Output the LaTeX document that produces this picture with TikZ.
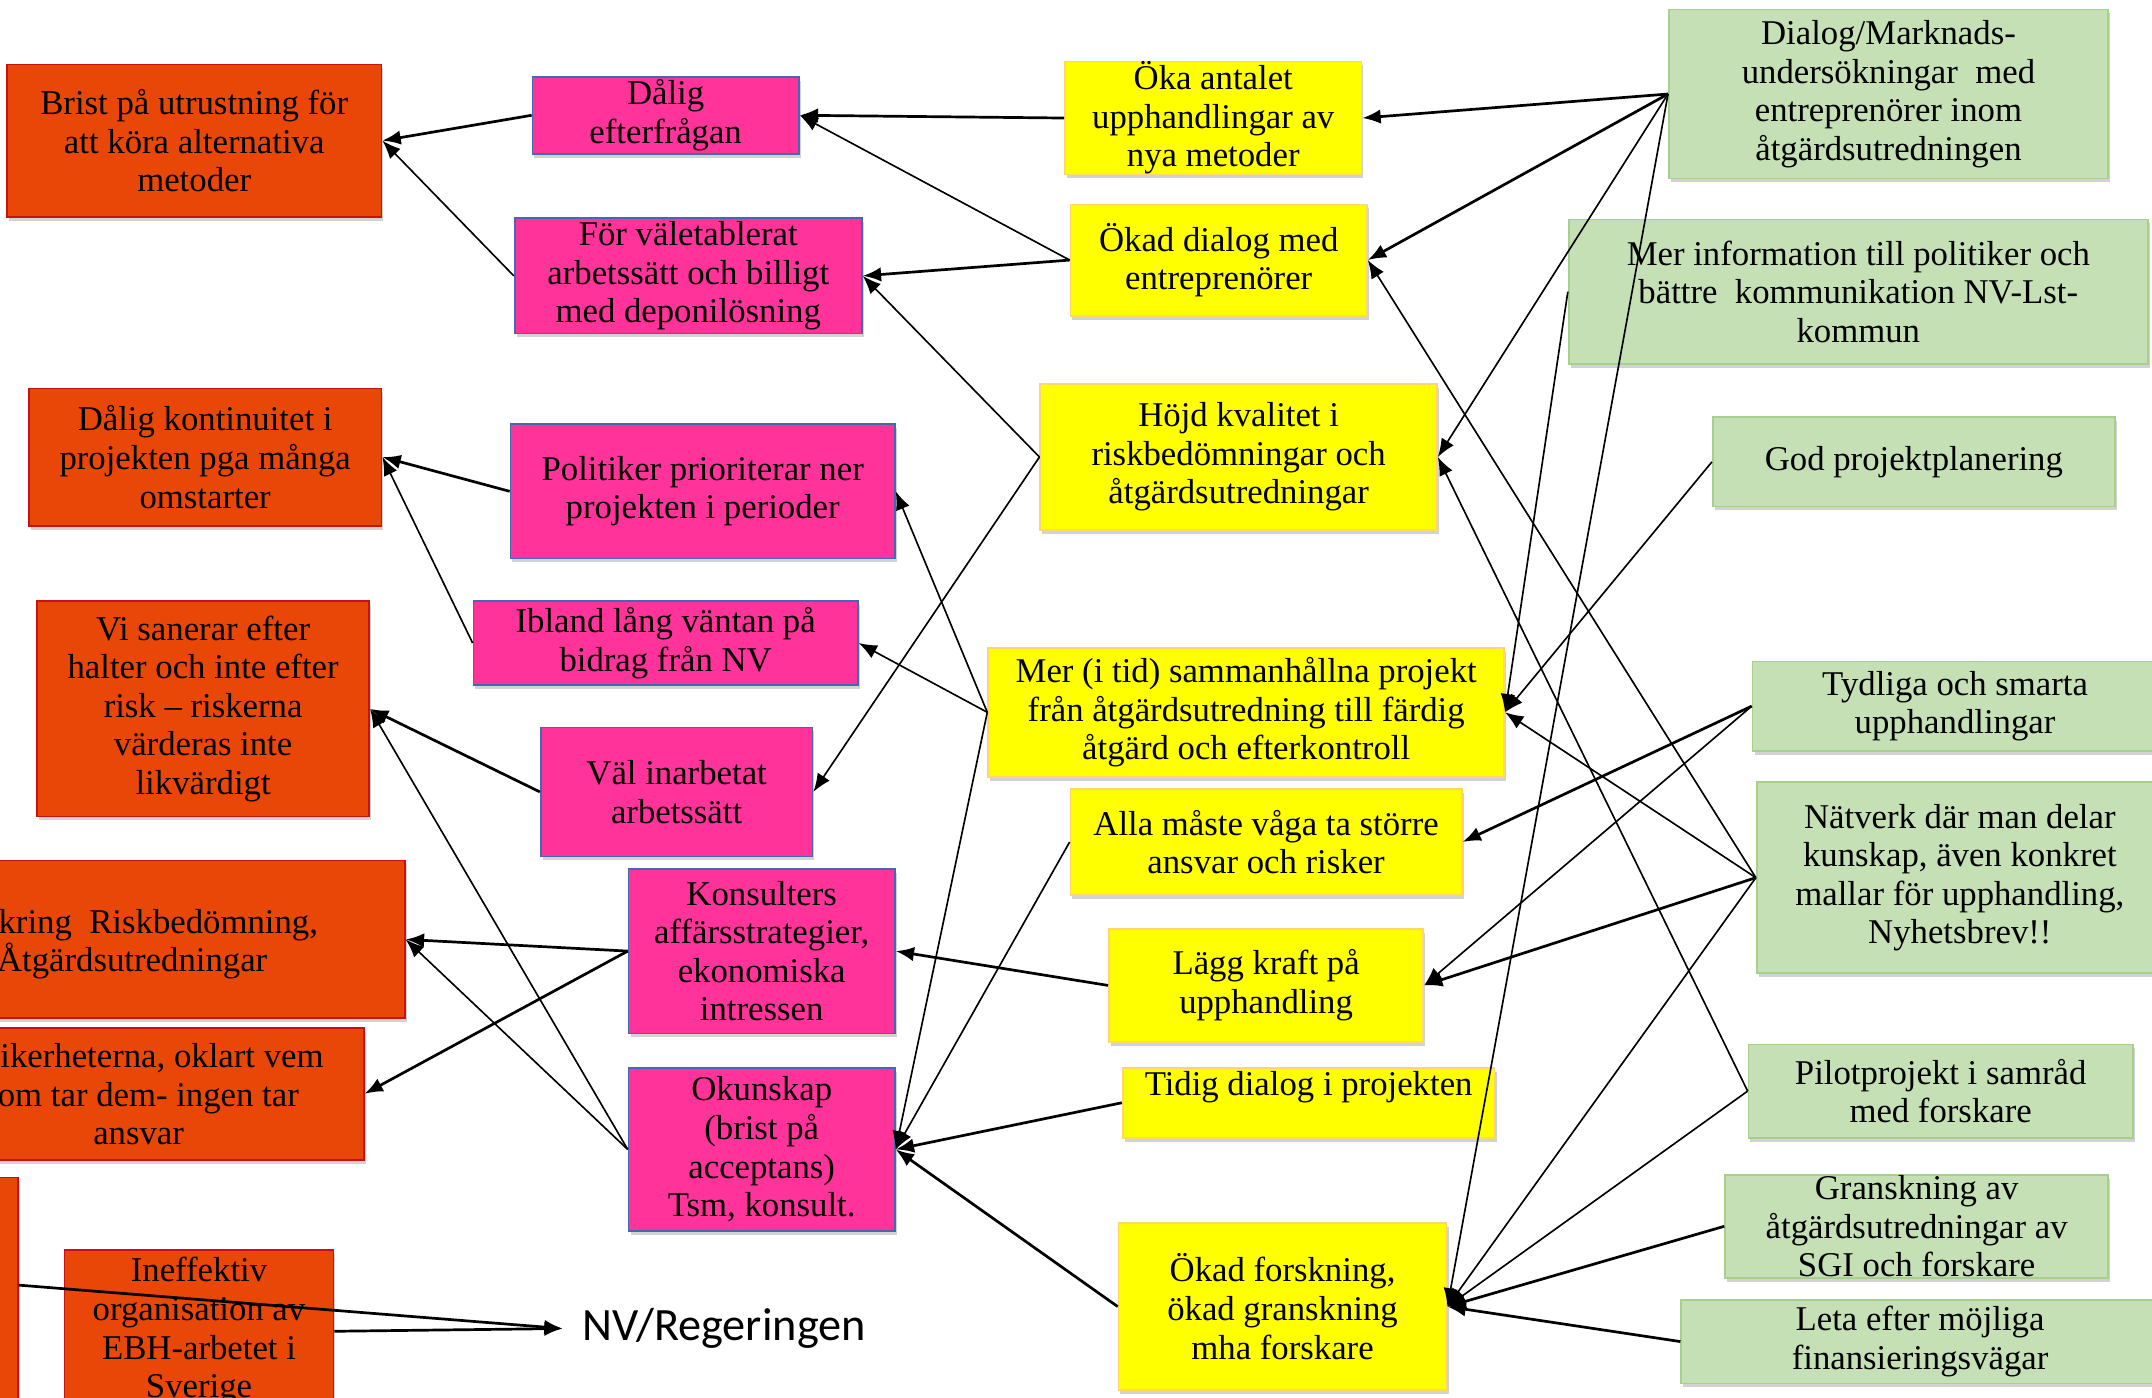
\documentclass[tikz,border=0pt]{standalone}
\usepackage{fontspec}
\setmainfont{Liberation Serif}
\newfontfamily\nvfont{Carlito}
\usepackage{tikz}
\usetikzlibrary{arrows.meta,shadows,calc}
\definecolor{dorange}{RGB}{233,71,7}
\definecolor{dred}{RGB}{200,18,16}
\definecolor{dpink}{RGB}{255,51,153}
\definecolor{dblue}{RGB}{68,104,178}
\definecolor{dyellow}{RGB}{255,255,0}
\definecolor{lorange}{RGB}{255,214,110}
\definecolor{lgreen}{RGB}{197,224,180}
\definecolor{mgreen}{RGB}{168,208,141}

% name, style, left, top, right, bottom, text
\newcommand\drawbox[7]{%
  \pgfmathsetmacro\bw{(#5-#3)*0.025}%
  \pgfmathsetmacro\bh{(#6-#4)*0.025}%
  \node[#2,minimum width=\bw cm,minimum height=\bh cm] (#1) at ({(#3+#5)/2},{(#4+#6)/2}) {#7};}

\begin{document}
\begin{tikzpicture}[x=0.025cm,y=-0.025cm,
  every node/.style={font=\fontsize{18}{20}\selectfont,align=center,inner sep=0pt},
  box/.style={rectangle,line width=0.9pt,drop shadow={shadow xshift=1pt,shadow yshift=-2pt,opacity=.25,fill=black!70}},
  obox/.style={box,fill=dorange,draw=dred},
  pbox/.style={box,fill=dpink,draw=dblue},
  ybox/.style={box,fill=dyellow,draw=lorange},
  gbox/.style={box,fill=lgreen,draw=mgreen},
  arr/.style={-{Latex[length=9.5pt,width=7.5pt]},line width=0.85pt},
  arrb/.style={arr,line width=1.4pt}]

\useasboundingbox (0,0) rectangle (1568,1018);
\clip (0,0) rectangle (1568,1018);

% draw the problem boxes
\drawbox{o1}{obox}{5}{47}{278}{158}{Brist på utrustning för\\att köra alternativa\\metoder}
\drawbox{o2}{obox}{21}{283}{278}{383}{Dålig kontinuitet i\\projekten pga många\\omstarter}
\drawbox{o3}{obox}{27}{438}{269}{595}{Vi sanerar efter\\halter och inte efter\\risk – riskerna\\värderas inte\\likvärdigt}
\drawbox{o4}{obox}{-110}{627}{295}{742}{}
\drawbox{o5}{obox}{-70}{749}{265}{845}{}
\drawbox{o6}{obox}{-100}{858}{13}{1100}{}
\drawbox{o7}{obox}{47}{911}{243}{1029}{Ineffektiv\\organisation av\\EBH-arbetet i\\Sverige}

% draw the cause boxes
\drawbox{p1}{pbox}{388}{56}{582}{112}{Dålig\\efterfrågan}
\drawbox{p2}{pbox}{375}{159}{628}{243}{För väletablerat\\arbetssätt och billigt\\med deponilösning}
\drawbox{p3}{pbox}{372}{309}{652}{407}{Politiker prioriterar ner\\projekten i perioder}
\drawbox{p4}{pbox}{345}{438}{625}{499}{Ibland lång väntan på\\bidrag från NV}
\drawbox{p5}{pbox}{394}{530}{592}{624}{Väl inarbetat\\arbetssätt}
\drawbox{p6}{pbox}{458}{633}{652}{753}{Konsulters\\affärsstrategier,\\ekonomiska\\intressen}
\drawbox{p7}{pbox}{458}{778}{652}{897}{Okunskap\\(brist på\\acceptans)\\Tsm, konsult.}

% draw the goal boxes
\drawbox{y1}{ybox}{776}{45}{992}{127}{Öka antalet\\upphandlingar av\\nya metoder}
\drawbox{y2}{ybox}{780}{149}{996}{230}{Ökad dialog med\\entreprenörer}
\drawbox{y3}{ybox}{758}{280}{1047}{386}{Höjd kvalitet i\\riskbedömningar och\\åtgärdsutredningar}
\drawbox{y4}{ybox}{720}{472}{1096}{566}{Mer (i tid) sammanhållna projekt\\från åtgärdsutredning till färdig\\åtgärd och efterkontroll}
\drawbox{y5}{ybox}{780}{575}{1065}{652}{Alla måste våga ta större\\ansvar och risker}
\drawbox{y6}{ybox}{808}{677}{1037}{759}{Lägg kraft på\\upphandling}
\drawbox{y7}{ybox}{818}{778}{1089}{829}{}
\drawbox{y8}{ybox}{815}{891}{1054}{1013}{Ökad forskning,\\ökad granskning\\mha forskare}

% draw the measure boxes
\drawbox{g1}{gbox}{1216}{7}{1536}{130}{Dialog/Marknads-\\undersökningar~~med\\entreprenörer inom\\åtgärdsutredningen}
\drawbox{g2}{gbox}{1143}{160}{1565}{265}{Mer information till politiker och\\bättre~~kommunikation NV-Lst-\\kommun}
\drawbox{g3}{gbox}{1248}{304}{1541}{369}{God projektplanering}
\drawbox{g4}{gbox}{1277}{482}{1572}{547}{Tydliga och smarta\\upphandlingar}
\drawbox{g5}{gbox}{1280}{570}{1576}{709}{Nätverk där man delar\\kunskap, även konkret\\mallar för upphandling,\\Nyhetsbrev!!}
\drawbox{g6}{gbox}{1274}{761}{1554}{829}{Pilotprojekt i samråd\\med forskare}
\drawbox{g7}{gbox}{1257}{856}{1536}{931}{Granskning av\\åtgärdsutredningar av\\SGI och forskare}
\drawbox{g8}{gbox}{1225}{947}{1573}{1008}{Leta efter möjliga\\finansieringsvägar}

% texts running out of the page
\node[anchor=base east] (o4a) at (232,680) {kring~~Riskbedömning,};
\node[anchor=base east] (o4b) at (195,708) {Åtgärdsutredningar};
\node[anchor=base east] (o5a) at (236,778) {ikerheterna, oklart vem};
\node[anchor=base east] (o5b) at (218,806) {om tar dem- ingen tar};
\node[anchor=base] (o5c) at (101,834) {ansvar};
\node[anchor=north] (y7t) at ([yshift=-2pt]y7.north) {Tidig dialog i projekten};

\node[font=\nvfont\fontsize{24}{28}\selectfont,inner xsep=10pt,anchor=west] (nv) at (410,968) {NV/Regeringen};
\coordinate (o6out) at ($(o6.north east)+(0,79)$);

% draw the arrows
\foreach \a/\b in {p2/o1,p4/o2,p7/o3,p7/o4,y2/p1,y3/p2,y3/p5,y4/p3,y4/p4,y4/p7,y5/p7,
  g1/y3,g1/y8,g2/y4,g3/y4,g5/y2,g5/y4,g5/y8,g6/y3,g6/y8,g4/y6}
  \draw[arr] (\a.west) -- (\b.east);

\foreach \a/\b in {p1/o1,p3/o2,p5/o3,p6/o4,p6/o5,y1/p1,y2/p2,y6/p6,y7/p7,y8/p7,
  g1/y1,g1/y2,g4/y5,g5/y6,g7/y8,g8/y8}
  \draw[arrb] (\a.west) -- (\b.east);

\draw[arrb] (o6out) -- (nv.west);
\draw[arrb] (o7.east) -- (nv.west);

\end{tikzpicture}
\end{document}
